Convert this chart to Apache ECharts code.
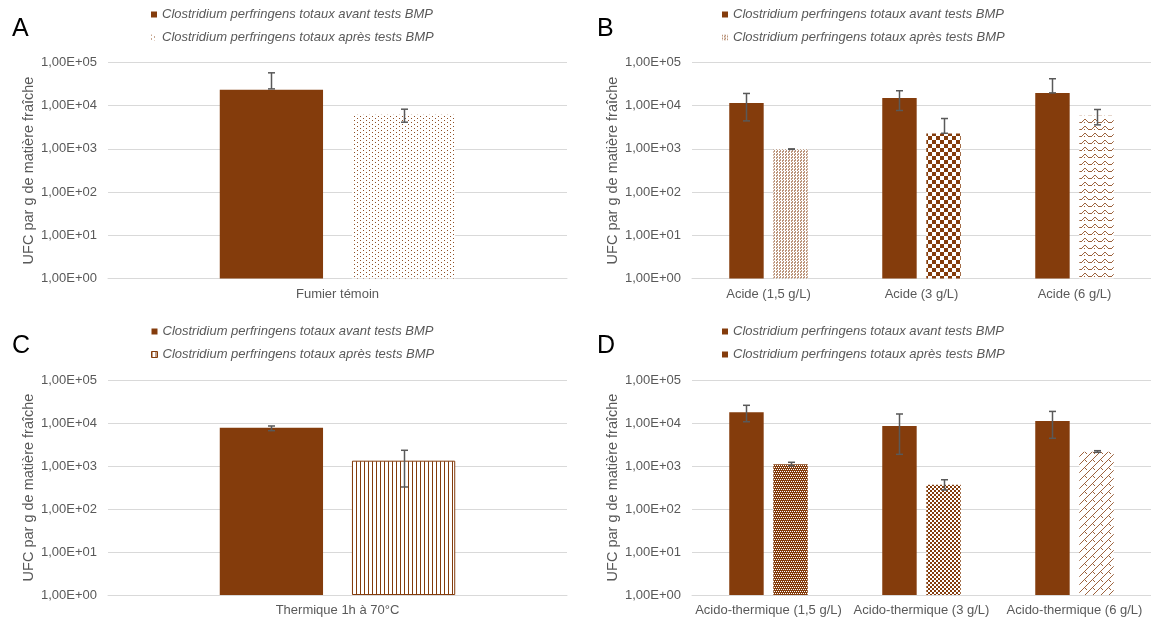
<!DOCTYPE html>
<html><head><meta charset="utf-8">
<script src="https://cdn.jsdelivr.net/npm/echarts@6/dist/echarts.min.js"></script>
<style>html,body{margin:0;padding:0;background:#fff}#c{width:1151px;height:623px}</style>
</head><body><div id="c"></div>
<script>
// ---------- DATA ----------
const seriesNames = ['Clostridium perfringens totaux avant tests BMP', 'Clostridium perfringens totaux après tests BMP'];
const yTicks = ['1,00E+00', '1,00E+01', '1,00E+02', '1,00E+03', '1,00E+04', '1,00E+05'];

const categoriesA = ['Fumier témoin'];
const avantA = [23300];
const apresA = [6150];
const errAvantA = [[24500, 57700]];
const errApresA = [[4150, 8300]];

const categoriesB = ['Acide (1,5 g/L)', 'Acide (3 g/L)', 'Acide (6 g/L)'];
const avantB = [11500, 15000, 19600];
const apresB = [985, 2260, 5830];
const errAvantB = [[4450, 19200], [7740, 22200], [19800, 42100]];
const errApresB = [[975, 1000], [2300, 5050], [3600, 8170]];

const categoriesC = ['Thermique 1h à 70°C'];
const avantC = [7780];
const apresC = [1330];
const errAvantC = [[6630, 8520]];
const errApresC = [[325, 2320]];

const categoriesD = ['Acido-thermique (1,5 g/L)', 'Acido-thermique (3 g/L)', 'Acido-thermique (6 g/L)'];
const avantD = [17700, 8510, 11100];
const apresD = [1095, 367, 2150];
const errAvantD = [[10700, 25800], [1870, 16200], [4410, 18600]];
const errApresD = [[1015, 1220], [277, 479], [2080, 2270]];

// ---------- STYLE ----------
const BROWN = '#843C0C';
const GREY = '#595959';
const GRID = '#D9D9D9';
const FONT = "'Liberation Sans', Arial, sans-serif";
const BW = 0.225, BG = 0.28;

function tile(rows, alpha) {
  const h = rows.length, w = rows[0].length;
  const c = document.createElement('canvas');
  c.width = w; c.height = h;
  const g = c.getContext('2d');
  g.fillStyle = '#ffffff'; g.fillRect(0, 0, w, h);
  g.fillStyle = BROWN; g.globalAlpha = alpha == null ? 1 : alpha;
  rows.forEach((r, y) => { for (let x = 0; x < w; x++) if (r[x] === 'X') g.fillRect(x, y, 1, 1); });
  return { image: c, repeat: 'repeat' };
}

const patDots = tile(['X.....', '......', '...X..', '......'], 0.9);
const patVDash = tile(['X..', 'X.X', '..X'], 0.55);
const patChecker = tile(['XXXX....', 'XXXX....', 'XXXX....', 'XXXX....', '....XXXX', '....XXXX', '....XXXX', '....XXXX']);
const patWave = tile([
  '....XX....',
  '...X..X...',
  '..X....X..',
  'XX..X...XX',
  '..........',
  '..........',
  '..........'], 0.8);
const patVLines = tile(['X...']);
const patSmallGrid = tile(['XXXX', 'X.X.', 'XXXX', '.X.X']);
const patFineChecker = tile(['XX..', 'XX..', '..XX', '..XX']);
const patTrellis = tile([
  '.......X',
  '......X.',
  '.....X..',
  '....X...',
  '...X.X..',
  '..X...X.',
  '.X......',
  'X.......'], 0.8);

// ---------- BUILD ----------
const panels = [
  { letter: 'A', cats: categoriesA, av: avantA, ap: apresA, eav: errAvantA, eap: errApresA, left: 108, top: 62.5, h: 216, legLeft: 146, legTop: 3,
    apStyle: [patDots], legIcon: patDots },
  { letter: 'B', cats: categoriesB, av: avantB, ap: apresB, eav: errAvantB, eap: errApresB, left: 692, top: 62.5, h: 216, legLeft: 717, legTop: 3,
    apStyle: [patVDash, patChecker, patWave], legIcon: patVDash },
  { letter: 'C', cats: categoriesC, av: avantC, ap: apresC, eav: errAvantC, eap: errApresC, left: 108, top: 380, h: 215, legLeft: 146, legTop: 320,
    apStyle: [patVLines], legIcon: patVLines, border: true },
  { letter: 'D', cats: categoriesD, av: avantD, ap: apresD, eav: errAvantD, eap: errApresD, left: 692, top: 380, h: 215, legLeft: 717, legTop: 320,
    apStyle: [patSmallGrid, patFineChecker, patTrellis], legIcon: BROWN }
];
const letterPos = { A: [12, 17], B: [597, 17], C: [12, 334], D: [597, 334] };

const grid = [], xAxis = [], yAxis = [], series = [], legend = [], graphic = [];

function errRender(sign) {
  return function (params, api) {
    const x = api.value(0);
    const lo = api.coord([x, api.value(1)]);
    const hi = api.coord([x, api.value(2)]);
    const band = api.size([1, 0])[0];
    const w = band * BW, gap = w * BG;
    const cx = Math.round(lo[0] + sign * (w + gap) / 2) + 0.5;
    const st = { stroke: GREY, lineWidth: 1.5 };
    return { type: 'group', children: [
      { type: 'line', shape: { x1: cx, y1: lo[1], x2: cx, y2: hi[1] }, style: st },
      { type: 'line', shape: { x1: cx - 3.5, y1: lo[1], x2: cx + 3.5, y2: lo[1] }, style: st },
      { type: 'line', shape: { x1: cx - 3.5, y1: hi[1], x2: cx + 3.5, y2: hi[1] }, style: st }
    ] };
  };
}

panels.forEach((p, i) => {
  grid.push({ left: p.left, top: p.top, width: 459, height: p.h, containLabel: false });
  xAxis.push({ type: 'category', gridIndex: i, data: p.cats,
    axisLine: { lineStyle: { color: GRID, width: 1 } }, axisTick: { show: false },
    axisLabel: { color: GREY, fontSize: 13, fontFamily: FONT, margin: 9, interval: 0 } });
  yAxis.push({ type: 'log', gridIndex: i, logBase: 10, min: 1, max: 100000,
    name: 'UFC par g de matière fraîche', nameLocation: 'middle', nameGap: 72,
    nameTextStyle: { color: GREY, fontSize: 14.5, fontFamily: FONT },
    axisLine: { show: false }, axisTick: { show: false },
    splitLine: { lineStyle: { color: GRID, width: 1 } },
    axisLabel: { color: GREY, fontSize: 13, fontFamily: FONT, margin: 11,
      formatter: v => yTicks[Math.round(Math.log10(v))] } });
  series.push({ type: 'bar', name: seriesNames[0], xAxisIndex: i, yAxisIndex: i,
    data: p.av, barWidth: (BW * 100) + '%', barGap: (BG * 100) + '%',
    itemStyle: { color: BROWN }, emphasis: { disabled: true } });
  series.push({ type: 'bar', name: seriesNames[1], xAxisIndex: i, yAxisIndex: i,
    data: p.ap.map((v, k) => ({ value: v, itemStyle: { color: p.apStyle[k], borderColor: p.border ? BROWN : 'transparent', borderWidth: p.border ? 1 : 0 } })),
    barWidth: (BW * 100) + '%', barGap: (BG * 100) + '%',
    itemStyle: { color: p.apStyle[0] }, emphasis: { disabled: true } });
  series.push({ type: 'custom', xAxisIndex: i, yAxisIndex: i, renderItem: errRender(-1), z: 10,
    data: p.eav.map((e, k) => [k, e[0], e[1]]), silent: true });
  series.push({ type: 'custom', xAxisIndex: i, yAxisIndex: i, renderItem: errRender(1), z: 10,
    data: p.eap.map((e, k) => [k, e[0], e[1]]), silent: true });
  legend.push({ orient: 'vertical', left: p.legLeft, top: p.legTop, itemWidth: 6, itemHeight: 6, itemGap: 10,
    selectedMode: false,
    textStyle: { color: GREY, fontSize: 13, fontStyle: 'italic', fontFamily: FONT },
    data: [
      { name: seriesNames[0], icon: 'rect', itemStyle: { color: BROWN } },
      { name: seriesNames[1], icon: 'rect', itemStyle: { color: p.legIcon, borderColor: p.border ? BROWN : 'transparent', borderWidth: p.border ? 1 : 0 } }
    ] });
  const lp = letterPos[p.letter];
  graphic.push({ type: 'text', left: lp[0], top: lp[1], style: { text: p.letter, font: '25px ' + FONT, fill: '#000' } });
});

const chart = echarts.init(document.getElementById('c'), null, { renderer: 'canvas' });
chart.setOption({ animation: false, backgroundColor: '#fff', grid, xAxis, yAxis, series, legend, graphic, tooltip: { show: false } });
</script>
</body></html>
